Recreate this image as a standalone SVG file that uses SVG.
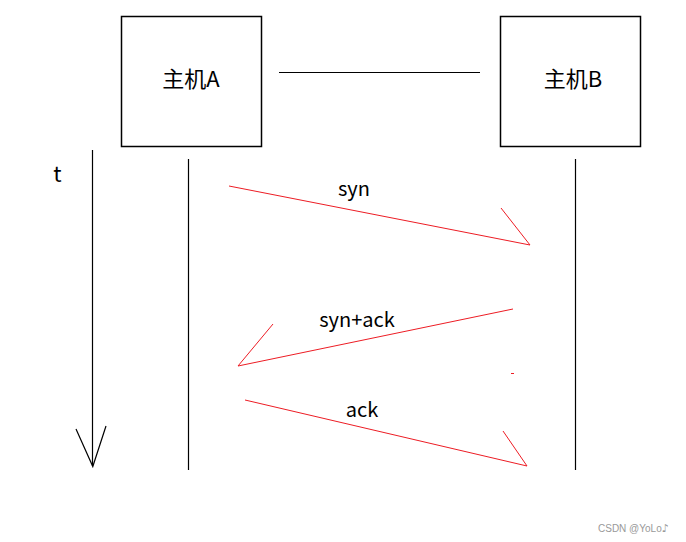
<svg xmlns="http://www.w3.org/2000/svg" width="686" height="542" viewBox="0 0 686 542">
<style>
.box{fill:#fff;stroke:#000;stroke-width:1.5}
.ln{fill:none;stroke:#000;stroke-width:1.2}
.msg{fill:none;stroke:#ed1c24;stroke-width:1}
.lbl{font-family:"Noto Sans CJK SC","Microsoft YaHei",sans-serif;font-size:20px;fill:#000;text-anchor:middle}
.host{font-family:"Noto Sans CJK SC","Microsoft YaHei",sans-serif;font-size:22px;fill:#000;text-anchor:middle}
.wm{font-family:"Liberation Sans","DejaVu Sans",sans-serif;font-size:10px;fill:#999}
.note{font-family:"DejaVu Sans",sans-serif;font-size:11px}
</style>
<rect width="686" height="542" fill="#fff"/>
<g id="hostA">
<rect class="box" x="121.5" y="16.5" width="140" height="130"/>
<text class="host" x="191" y="87">主机A</text>
</g>
<g id="hostB">
<rect class="box" x="500.5" y="16.5" width="140" height="130"/>
<text class="host" x="573" y="87">主机B</text>
</g>
<g id="time">
<text class="lbl" x="57.5" y="182" style="font-size:22px">t</text>
</g>
<g id="connectors">
<line class="ln" x1="279" y1="72.5" x2="480" y2="72.5"/>
<line class="ln" x1="92.5" y1="150" x2="92.5" y2="466"/>
<polyline class="ln" points="76,429 92.8,466.5 106,426"/>
<line class="ln" x1="188.5" y1="159" x2="188.5" y2="470"/>
<line class="ln" x1="575.5" y1="159" x2="575.5" y2="470"/>
<polyline class="msg" points="229,186 530,245 501,208"/>
<polyline class="msg" points="513,309 238,366 273,324"/>
<line class="msg" x1="511" y1="373.5" x2="514" y2="373.5"/>
<polyline class="msg" points="245,400 527,466 503,431"/>
</g>
<g id="labels">
<text class="lbl" x="354" y="196">syn</text>
<text class="lbl" x="357" y="327">syn+ack</text>
<text class="lbl" x="362" y="417">ack</text>
</g>
<text class="wm" x="598" y="532">CSDN @YoLo<tspan class="note">♪</tspan></text>
</svg>
